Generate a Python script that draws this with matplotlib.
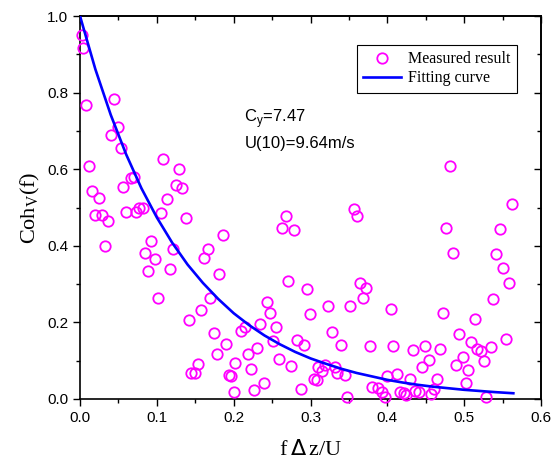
import matplotlib.pyplot as plt

# measured coherence points (f*dz/U, Coh)
meas_x = [0.003, 0.004, 0.008, 0.044, 0.049, 0.040, 0.053, 0.012, 0.108, 0.129,
          0.066, 0.070, 0.056, 0.125, 0.133, 0.016, 0.025, 0.113,
          0.020, 0.028, 0.036, 0.060, 0.073, 0.077, 0.082, 0.105, 0.138,
          0.033, 0.093, 0.085, 0.097, 0.089, 0.121, 0.117, 0.186, 0.166, 0.162,
          0.181, 0.101, 0.169, 0.157, 0.142, 0.174, 0.190, 0.178, 0.154,
          0.145, 0.150, 0.194, 0.197, 0.202, 0.201,
          0.268, 0.263, 0.279, 0.356, 0.360, 0.271, 0.295, 0.365, 0.372, 0.368,
          0.243, 0.247, 0.323, 0.351, 0.299, 0.234, 0.255, 0.215, 0.210, 0.251,
          0.283, 0.292, 0.328, 0.340, 0.377, 0.231, 0.219, 0.222, 0.259, 0.275,
          0.239, 0.226, 0.288, 0.310, 0.319, 0.315, 0.332, 0.334, 0.345, 0.304,
          0.308, 0.347, 0.380, 0.388, 0.393, 0.397,
          0.481, 0.562, 0.477, 0.546, 0.485, 0.541, 0.550, 0.558, 0.538, 0.405,
          0.473, 0.514, 0.493, 0.408, 0.433, 0.449, 0.469, 0.509, 0.517, 0.522,
          0.535, 0.554, 0.526, 0.454, 0.445, 0.498, 0.489, 0.505, 0.502, 0.400,
          0.412, 0.429, 0.465, 0.461, 0.457, 0.417, 0.422, 0.424, 0.436, 0.441,
          0.529]
meas_y = [0.950, 0.917, 0.768, 0.783, 0.709, 0.689, 0.656, 0.608, 0.626, 0.600,
          0.576, 0.580, 0.553, 0.559, 0.550, 0.544, 0.526, 0.523,
          0.480, 0.480, 0.465, 0.489, 0.489, 0.498, 0.500, 0.485, 0.472,
          0.400, 0.412, 0.382, 0.366, 0.333, 0.392, 0.339, 0.428, 0.391, 0.367,
          0.327, 0.264, 0.264, 0.233, 0.206, 0.173, 0.143, 0.118, 0.091,
          0.069, 0.067, 0.063, 0.060, 0.093, 0.019,
          0.479, 0.446, 0.441, 0.495, 0.479, 0.308, 0.286, 0.304, 0.290, 0.265,
          0.253, 0.225, 0.244, 0.244, 0.222, 0.196, 0.187, 0.189, 0.178, 0.151,
          0.154, 0.141, 0.176, 0.141, 0.138, 0.132, 0.117, 0.078, 0.104, 0.087,
          0.043, 0.024, 0.025, 0.084, 0.089, 0.073, 0.083, 0.069, 0.063, 0.051,
          0.050, 0.006, 0.032, 0.028, 0.017, 0.006,
          0.608, 0.508, 0.446, 0.445, 0.380, 0.378, 0.343, 0.304, 0.261, 0.235,
          0.225, 0.208, 0.171, 0.139, 0.129, 0.138, 0.131, 0.150, 0.131, 0.125,
          0.135, 0.156, 0.100, 0.102, 0.084, 0.110, 0.089, 0.076, 0.042, 0.061,
          0.065, 0.051, 0.053, 0.027, 0.013, 0.019, 0.015, 0.010, 0.022, 0.017,
          0.006]

# fitting curve (Cy = 7.47)
fit_x = [0.0, 0.02, 0.04, 0.06, 0.08, 0.10, 0.12, 0.14, 0.16, 0.18, 0.20,
         0.22, 0.24, 0.26, 0.28, 0.30, 0.32, 0.34, 0.36, 0.38, 0.40, 0.42,
         0.44, 0.46, 0.48, 0.50, 0.52, 0.54, 0.564]
fit_y = [1.000, 0.861, 0.742, 0.639, 0.550, 0.474, 0.408, 0.351, 0.303, 0.261,
         0.224, 0.193, 0.166, 0.143, 0.123, 0.106, 0.092, 0.079, 0.068, 0.059,
         0.050, 0.043, 0.037, 0.032, 0.028, 0.024, 0.021, 0.018, 0.015]

x_ticks = [0.0, 0.1, 0.2, 0.3, 0.4, 0.5, 0.6]
y_ticks = [0.0, 0.2, 0.4, 0.6, 0.8, 1.0]

fig = plt.figure(figsize=(5.53, 4.62), dpi=100)
ax = fig.add_axes([80 / 553, 1 - 399 / 462, 461 / 553, 383 / 462])

ax.plot(meas_x, meas_y, 'o', ls='none', mfc='none', mec='#FF00FF',
        ms=7.5, mew=1.3, label='Measured result', zorder=3, clip_on=False)
ax.plot(fit_x, fit_y, color='#0000FF', lw=1.9, label='Fitting curve', zorder=4)

ax.set_xlim(0, 0.6)
ax.set_ylim(0, 1.0)
ax.set_xticks(x_ticks)
ax.set_yticks(y_ticks)
ax.set_xticks([0.05, 0.15, 0.25, 0.35, 0.45, 0.55], minor=True)
ax.set_yticks([0.1, 0.3, 0.5, 0.7, 0.9], minor=True)
ax.set_xticklabels(['%.1f' % t for t in x_ticks], family='Liberation Sans', fontsize=11)
ax.set_yticklabels(['%.1f' % t for t in y_ticks], family='Liberation Sans', fontsize=11)
ax.tick_params(which='major', direction='out', length=5, width=1)
ax.tick_params(which='minor', direction='out', length=3, width=1)

# mirrored inward ticks on top and right
top = ax.secondary_xaxis('top')
top.set_xticks(x_ticks)
top.set_xticks([0.05, 0.15, 0.25, 0.35, 0.45, 0.55], minor=True)
top.tick_params(which='both', direction='in', labeltop=False)
top.tick_params(which='major', length=5, width=1)
top.tick_params(which='minor', length=3, width=1)
right = ax.secondary_yaxis('right')
right.set_yticks(y_ticks)
right.set_yticks([0.1, 0.3, 0.5, 0.7, 0.9], minor=True)
right.tick_params(which='both', direction='in', labelright=False)
right.tick_params(which='major', length=5, width=1)
right.tick_params(which='minor', length=3, width=1)

for s in ax.spines.values():
    s.set_linewidth(1.2)
top.spines['top'].set_linewidth(1.2)
right.spines['right'].set_linewidth(1.2)

ax.set_xlabel('f$\\,\\Delta\\,$z/U', family='Liberation Serif', fontsize=16, labelpad=11)
ax.set_ylabel('Coh$_\\mathregular{V}$(f)', family='Liberation Serif', fontsize=16)

ax.text(0.214, 0.722, 'C$_\\mathregular{y}$=7.47', family='Liberation Sans', fontsize=12)
ax.text(0.214, 0.656, 'U(10)=9.64m/s', family='Liberation Sans', fontsize=12)

leg = ax.legend(loc='upper right', bbox_to_anchor=(0.947, 0.925), borderaxespad=0,
                fancybox=False, edgecolor='black', framealpha=1, handlelength=2.4,
                handletextpad=0.4, borderpad=0.4, labelspacing=0.2,
                prop={'family': 'Liberation Serif', 'size': 11.5})
leg.get_frame().set_linewidth(0.8)

fig.savefig('out.png', dpi=100)
